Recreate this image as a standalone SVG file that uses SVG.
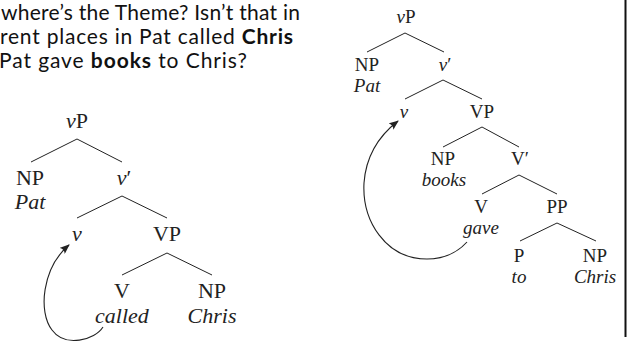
<svg xmlns="http://www.w3.org/2000/svg" width="631" height="343" viewBox="0 0 631 343">
<style>
.hdr{font-family:Lato,"Open Sans",sans-serif;font-size:21px;fill:#111}
.b{font-weight:bold}
.L{font-family:"Liberation Serif",serif;font-size:22px;fill:#222;text-anchor:middle}
.R{font-family:"Liberation Serif",serif;font-size:19px;fill:#222;text-anchor:middle}
.i{font-style:italic}
.e{stroke:#222;stroke-width:1;fill:none}
.arc{stroke:#222;stroke-width:1.1;fill:none;marker-end:url(#ah)}
</style>
<defs>
<marker id="ah" viewBox="0 0 10 8" refX="9" refY="4" markerWidth="10" markerHeight="8" markerUnits="userSpaceOnUse" orient="auto">
<path d="M0,0 L10,4 L0,8 Q3,4 0,0 Z" fill="#222"/>
</marker>
</defs>
<g id="header">
<text class="hdr" x="1" y="20" textLength="299" lengthAdjust="spacing">where’s the Theme? Isn’t that in</text>
<text class="hdr" x="0" y="44" textLength="293" lengthAdjust="spacing">rent places in Pat called <tspan class="b">Chris</tspan></text>
<text class="hdr" x="-1" y="68" textLength="248" lengthAdjust="spacing">Pat gave <tspan class="b">books</tspan> to Chris?</text>
</g>
<line id="divider" x1="625.5" y1="0" x2="625.5" y2="337" stroke="#111" stroke-width="2"/>
<g id="tree1">
<g id="t1-vP"><text class="L" x="77" y="128"><tspan class="i">v</tspan>P</text></g>
<g id="t1-NP"><text class="L" x="30" y="185">NP</text><text class="L i" x="30" y="209">Pat</text></g>
<g id="t1-vbar"><text class="L" x="124" y="185"><tspan class="i">v</tspan>′</text></g>
<g id="t1-v"><text class="L i" x="77" y="241">v</text></g>
<g id="t1-VP"><text class="L" x="167" y="241">VP</text></g>
<g id="t1-V"><text class="L" x="122" y="298">V</text><text class="L i" x="122" y="323">called</text></g>
<g id="t1-NP2"><text class="L" x="212" y="298">NP</text><text class="L i" x="212" y="323">Chris</text></g>
</g>
<g id="tree2">
<g id="t2-vP"><text class="R" x="406" y="23"><tspan class="i">v</tspan>P</text></g>
<g id="t2-NP"><text class="R" x="367" y="71">NP</text><text class="R i" x="367" y="92">Pat</text></g>
<g id="t2-vbar"><text class="R" x="445" y="71"><tspan class="i">v</tspan>′</text></g>
<g id="t2-v"><text class="R i" x="404" y="118">v</text></g>
<g id="t2-VP"><text class="R" x="482" y="118">VP</text></g>
<g id="t2-NP2"><text class="R" x="443" y="165">NP</text><text class="R i" x="444" y="186">books</text></g>
<g id="t2-Vbar"><text class="R" x="520" y="165">V′</text></g>
<g id="t2-V"><text class="R" x="481" y="213">V</text><text class="R i" x="481" y="234">gave</text></g>
<g id="t2-PP"><text class="R" x="557" y="213">PP</text></g>
<g id="t2-P"><text class="R" x="519" y="262">P</text><text class="R i" x="519" y="283">to</text></g>
<g id="t2-NP3"><text class="R" x="595" y="262">NP</text><text class="R i" x="595" y="283">Chris</text></g>
</g>
<g id="connectors">
<path class="e" d="M31,162 L77,139 L122,162 M77,218 L122,196 L167,218 M122,275 L167,253 L212,275"/>
<path class="e" d="M367,52 L405,33 L444,52 M405,99 L443,80 L482,99 M443,147 L482,127 L519,147 M482,194 L519,175 L557,194 M520,241 L557,223 L596,241"/>
<path class="arc" d="M103,327 C95,340 65,348 52,330 C38,312 42,268 69,245"/>
<path class="arc" d="M467,242 C455,255 440,259 427,259 C385,259 362,220 364,183 C366,155 380,135 398,121"/>
</g>
</svg>
